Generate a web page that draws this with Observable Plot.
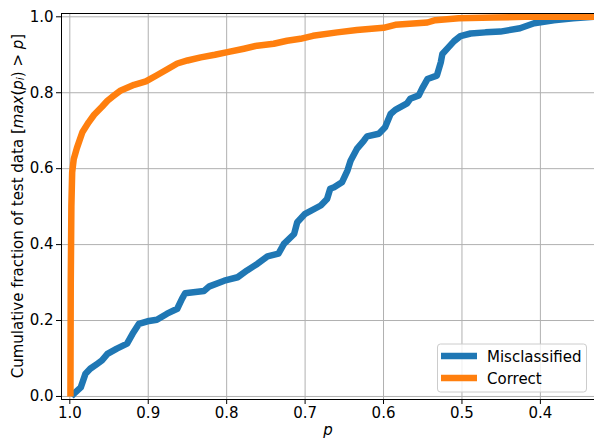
<!DOCTYPE html>
<html>
<head>
<meta charset="utf-8">
<script src="https://cdn.jsdelivr.net/npm/d3@7"></script>
<script src="https://cdn.jsdelivr.net/npm/@observablehq/plot@0.6"></script>
<style>
  html, body { margin: 0; padding: 0; background: #fff; }
  #chart { width: 594px; height: 440px; overflow: hidden; }
</style>
</head>
<body>
<div id="chart"></div>
<script>
// ---- Data ----
const misP = [0.998, 0.995, 0.986, 0.980, 0.974, 0.965, 0.959, 0.952, 0.940, 0.927,
  0.920, 0.912, 0.901, 0.889, 0.876, 0.863, 0.857, 0.853, 0.829, 0.822,
  0.803, 0.786, 0.774, 0.761, 0.748, 0.734, 0.727, 0.714, 0.710, 0.700,
  0.680, 0.672, 0.668, 0.663, 0.653, 0.646, 0.642, 0.634, 0.625, 0.621,
  0.606, 0.598, 0.591, 0.585, 0.570, 0.566, 0.555, 0.551, 0.544, 0.532,
  0.527, 0.525, 0.517, 0.510, 0.502, 0.489, 0.470, 0.451, 0.426, 0.408,
  0.383, 0.358, 0.331];
const misFrac = [0.0, 0.007, 0.024, 0.060, 0.073, 0.086, 0.095, 0.112, 0.126, 0.139,
  0.165, 0.191, 0.198, 0.202, 0.218, 0.231, 0.257, 0.272, 0.278, 0.290,
  0.305, 0.314, 0.332, 0.349, 0.369, 0.376, 0.402, 0.428, 0.459, 0.481,
  0.503, 0.520, 0.547, 0.551, 0.564, 0.595, 0.621, 0.652, 0.674, 0.685,
  0.692, 0.709, 0.744, 0.755, 0.772, 0.784, 0.793, 0.810, 0.836, 0.845,
  0.880, 0.902, 0.920, 0.936, 0.949, 0.956, 0.959, 0.961, 0.970, 0.983,
  0.991, 0.996, 1.0];

const corP = [0.9992, 0.9988, 0.998, 0.997, 0.995, 0.991, 0.984, 0.976, 0.969, 0.959, 0.952,
  0.946, 0.935, 0.918, 0.903, 0.889, 0.874, 0.863, 0.850, 0.833, 0.815,
  0.799, 0.778, 0.761, 0.740, 0.723, 0.706, 0.690, 0.659, 0.634, 0.600,
  0.585, 0.544, 0.534, 0.504, 0.460, 0.420, 0.331];
const corFrac = [0.0, 0.30, 0.50, 0.590, 0.625, 0.654, 0.696, 0.722, 0.742, 0.763, 0.779,
  0.789, 0.806, 0.821, 0.830, 0.846, 0.864, 0.877, 0.885, 0.893, 0.900,
  0.907, 0.916, 0.924, 0.929, 0.937, 0.942, 0.950, 0.959, 0.965, 0.971,
  0.979, 0.985, 0.991, 0.996, 0.998, 1.0, 1.0];

const seriesNames = ["Misclassified", "Correct"];
const seriesColors = ["#1f77b4", "#ff7f0e"];
const xTicks = [1.0, 0.9, 0.8, 0.7, 0.6, 0.5, 0.4];
const yTicks = [0.0, 0.2, 0.4, 0.6, 0.8, 1.0];
const xDomain = [1.0106, 0.331];
const yDomain = [-0.008, 1.0087];

// ---- Build tables ----
const mis = misP.map((p, i) => ({p, f: misFrac[i], s: seriesNames[0]}));
const cor = corP.map((p, i) => ({p, f: corFrac[i], s: seriesNames[1]}));

const W = 594, H = 440;
const mL = 61, mR = 0, mT = 13, mB = 41;
const gridStyle = {stroke: "#b0b0b0", strokeOpacity: 1, strokeWidth: 1};

const chart = Plot.plot({
  width: W, height: H,
  marginLeft: mL, marginRight: mR, marginTop: mT, marginBottom: mB,
  style: {fontFamily: "DejaVu Sans", fontSize: "15px", color: "#000", background: "#fff", overflow: "hidden"},
  x: {domain: xDomain, label: null},
  y: {domain: yDomain, label: null},
  marks: [
    Plot.gridX(xTicks, gridStyle),
    Plot.gridY(yTicks, gridStyle),
    Plot.line(mis, {x: "p", y: "f", stroke: seriesColors[0], strokeWidth: 6.5, strokeLinejoin: "round", strokeLinecap: "butt", clip: true}),
    Plot.line(cor, {x: "p", y: "f", stroke: seriesColors[1], strokeWidth: 6.5, strokeLinejoin: "round", strokeLinecap: "butt", clip: true}),
    Plot.ruleX([xDomain[0]], {stroke: "#000", strokeWidth: 1}),
    Plot.ruleY([yDomain[0]], {stroke: "#000", strokeWidth: 1}),
    Plot.ruleY([yDomain[1]], {stroke: "#000", strokeWidth: 1}),
    Plot.axisX(xTicks, {tickFormat: d3.format(".1f"), tickSize: 5, tickPadding: 3, stroke: "#000", fontSize: 15, label: null}),
    Plot.axisY(yTicks, {tickFormat: d3.format(".1f"), tickSize: 5, tickPadding: 3, stroke: "#000", fontSize: 15, label: null})
  ]
});
document.getElementById("chart").appendChild(chart);

// ---- Axis labels (with math-style italics) ----
const svg = d3.select(chart);
const ylab = svg.append("text")
  .attr("transform", `translate(18,${(mT + H - mB) / 2}) rotate(-90)`)
  .attr("text-anchor", "middle")
  .attr("dominant-baseline", "middle")
  .attr("font-family", "DejaVu Sans")
  .attr("font-size", 15)
  .attr("fill", "#000");
ylab.append("tspan").text("Cumulative fraction of test data [");
ylab.append("tspan").attr("font-style", "italic").text("max");
ylab.append("tspan").text("(");
ylab.append("tspan").attr("font-style", "italic").text("p");
ylab.append("tspan").attr("font-style", "italic").attr("font-size", 11).attr("dy", 3).text("i");
ylab.append("tspan").attr("dy", -3).text(") > ");
ylab.append("tspan").attr("font-style", "italic").text("p");
ylab.append("tspan").text("]");

svg.append("text")
  .attr("x", 328).attr("y", 435)
  .attr("text-anchor", "middle")
  .attr("font-family", "DejaVu Sans")
  .attr("font-style", "italic")
  .attr("font-size", 15)
  .attr("fill", "#000")
  .text("p");

// ---- Legend ----
const lg = svg.append("g").attr("text-anchor", "start");
lg.append("rect")
  .attr("x", 437.5).attr("y", 344).attr("width", 149).attr("height", 48)
  .attr("rx", 3).attr("fill", "#fff").attr("fill-opacity", 0.8)
  .attr("stroke", "#cccccc").attr("stroke-width", 1);
seriesNames.forEach((name, i) => {
  const cy = 356 + i * 22;
  lg.append("line")
    .attr("x1", 441).attr("x2", 477).attr("y1", cy).attr("y2", cy)
    .attr("stroke", seriesColors[i]).attr("stroke-width", 6.5);
  lg.append("text")
    .attr("x", 487).attr("y", cy + 5.5)
    .attr("text-anchor", "start")
    .attr("font-family", "DejaVu Sans").attr("font-size", 15).attr("fill", "#000")
    .text(name);
});
</script>
</body>
</html>
